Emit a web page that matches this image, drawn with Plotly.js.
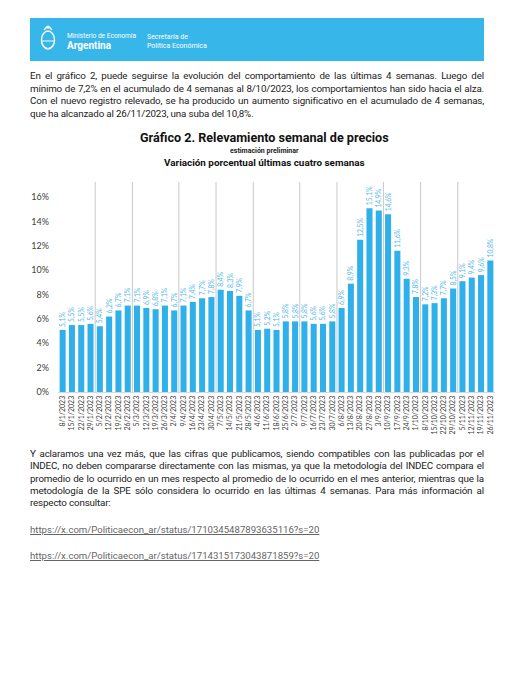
<!DOCTYPE html>
<html>
<head>
<meta charset="utf-8">
<script src="https://cdn.plot.ly/plotly-3.0.1.min.js"></script>
<style>
  html, body { margin:0; padding:0; background:#fff; width:526px; height:680px; overflow:hidden; }
  body { position:relative; font-family: Roboto, "Noto Sans", sans-serif; color:#222; }
  #band { position:absolute; left:30px; top:18px; width:454px; height:43px; background:#37b6ea; }
  .wt { position:absolute; color:#fff; white-space:nowrap; font-family: Roboto, sans-serif; }
  .para { position:absolute; left:30px; width:454px; text-align:justify; font-size:9.8px; letter-spacing:-0.16px; line-height:12.5px; color:#222; }
  .link { position:absolute; left:30px; font-size:9.6px; color:#666; text-decoration:underline; white-space:nowrap; }
  #chart { position:absolute; left:0; top:125px; width:526px; height:320px; }
</style>
</head>
<body>
<div id="band">
  <svg style="position:absolute; left:10px; top:4px;" width="16" height="32" viewBox="0 0 16 32">
    <ellipse cx="8" cy="18" rx="6.5" ry="9" fill="none" stroke="#fff" stroke-width="1.4"/>
    <path d="M4 8 Q8 2 12 8" fill="none" stroke="#fff" stroke-width="1.3"/>
    <circle cx="8" cy="5" r="1.6" fill="#fff"/>
    <line x1="2" y1="19" x2="14" y2="19" stroke="#fff" stroke-width="1"/>
    <path d="M3 23 Q8 30 13 23" fill="none" stroke="#fff" stroke-width="1"/>
  </svg>
  <div class="wt" style="left:37px; top:14px; font-size:6.6px;">Ministerio de Economía</div>
  <div class="wt" style="left:37px; top:22px; font-size:10px; font-weight:bold;">Argentina</div>
  <div class="wt" style="left:117px; top:15px; font-size:7px;">Secretaría de</div>
  <div class="wt" style="left:117px; top:24px; font-size:7px;">Política Económica</div>
</div>
<div class="para" style="top:70px;">En el gráfico 2, puede seguirse la evolución del comportamiento de las últimas 4 semanas. Luego del mínimo de 7,2% en el acumulado de 4 semanas al 8/10/2023, los comportamientos han sido hacia el alza. Con el nuevo registro relevado, se ha producido un aumento significativo en el acumulado de 4 semanas, que ha alcanzado al 26/11/2023, una suba del 10,8%.</div>
<div id="chart"></div>
<div class="para" style="top:448px; line-height:12.3px;">Y aclaramos una vez más, que las cifras que publicamos, siendo compatibles con las publicadas por el INDEC, no deben compararse directamente con las mismas, ya que la metodología del INDEC compara el promedio de lo ocurrido en un mes respecto al promedio de lo ocurrido en el mes anterior, mientras que la metodología de la SPE sólo considera lo ocurrido en las últimas 4 semanas. Para más información al respecto consultar:</div>
<div class="link" style="top:524px;">https://x.com/Politicaecon_ar/status/1710345487893635116?s=20</div>
<div class="link" style="top:550px;">https://x.com/Politicaecon_ar/status/1714315173043871859?s=20</div>
<script>
const weeks = ["8/1/2023","15/1/2023","22/1/2023","29/1/2023","5/2/2023","12/2/2023","19/2/2023","26/2/2023",
  "5/3/2023","12/3/2023","19/3/2023","26/3/2023","2/4/2023","9/4/2023","16/4/2023","23/4/2023","30/4/2023",
  "7/5/2023","14/5/2023","21/5/2023","28/5/2023","4/6/2023","11/6/2023","18/6/2023","25/6/2023","2/7/2023",
  "9/7/2023","16/7/2023","23/7/2023","30/7/2023","6/8/2023","13/8/2023","20/8/2023","27/8/2023","3/9/2023",
  "10/9/2023","17/9/2023","24/9/2023","1/10/2023","8/10/2023","15/10/2023","22/10/2023","29/10/2023",
  "5/11/2023","12/11/2023","19/11/2023","26/11/2023"];
const variation = [5.1,5.5,5.5,5.6,5.4,6.2,6.7,7.1,
  7.1,6.9,6.8,7.1,6.7,7.1,7.4,7.7,7.8,
  8.4,8.3,7.9,6.7,5.1,5.2,5.1,5.8,5.8,
  5.8,5.6,5.6,5.8,6.9,8.9,12.5,15.1,14.9,
  14.6,11.6,9.3,7.8,7.2,7.3,7.7,8.5,
  9.1,9.4,9.6,10.8];
const separatorsAfter = ["29/1/2023","26/2/2023","2/4/2023","30/4/2023","28/5/2023","2/7/2023","30/7/2023","3/9/2023","1/10/2023","29/10/2023"];
const yTicks = [0,2,4,6,8,10,12,14,16];

const labels = variation.map(v => v.toFixed(1).replace('.', ',') + '%');

const trace = {
  type: 'bar',
  x: weeks,
  y: variation,
  marker: { color: '#2fb0ea' },
  text: labels,
  textposition: 'outside',
  textangle: -90,
  constraintext: 'none',
  cliponaxis: false,
  textfont: { family: 'Lato, "Open Sans", sans-serif', size: 6.8, color: '#55b8e8' },
  hoverinfo: 'x+y'
};

const shapes = separatorsAfter.map(d => {
  const i = weeks.indexOf(d) + 0.5;
  return { type:'line', xref:'x', yref:'paper', x0:i, x1:i, y0:0, y1:1, layer:'below',
           line:{ color:'#c8c8c8', width:1 } };
});

const layout = {
  width: 526, height: 320,
  margin: { l:58, r:31, t:57, b:53 },
  paper_bgcolor: 'rgba(0,0,0,0)',
  plot_bgcolor: 'rgba(0,0,0,0)',
  showlegend: false,
  bargap: 0.35,
  font: { family: 'Lato, "Open Sans", sans-serif', color:'#404040' },
  xaxis: {
    type: 'category',
    tickangle: -90,
    tickfont: { size: 7, color:'#404040' },
    showline: true, linecolor:'#d9d9d9', linewidth:1,
    ticks: '', showgrid: false,
    range: [-0.5, weeks.length - 0.5]
  },
  yaxis: {
    range: [0, 17.25],
    tickvals: yTicks,
    ticktext: yTicks.map(t => t + '%'),
    tickfont: { size: 9, color:'#404040' },
    showgrid: false, zeroline: false, showline: false,
    ticklabelstandoff: 8
  },
  shapes: shapes,
  annotations: [
    { text: '<b>Gráfico 2. Relevamiento semanal de precios</b>', xref:'paper', yref:'paper', x:0.4725, y:1, yanchor:'middle', yshift:45, showarrow:false,
      font:{ family:'Roboto, sans-serif', size:12.6, color:'#111' } },
    { text: '<b>estimación preliminar</b>', xref:'paper', yref:'paper', x:0.4725, y:1, yanchor:'middle', yshift:31, showarrow:false,
      font:{ family:'Roboto, sans-serif', size:7, color:'#222' } },
    { text: '<b>Variación porcentual últimas cuatro semanas</b>', xref:'paper', yref:'paper', x:0.4725, y:1, yanchor:'middle', yshift:20, showarrow:false,
      font:{ family:'Roboto, sans-serif', size:9.9, color:'#111' } }
  ]
};

Plotly.newPlot('chart', [trace], layout, { staticPlot: true, displayModeBar: false });
</script>
</body>
</html>
